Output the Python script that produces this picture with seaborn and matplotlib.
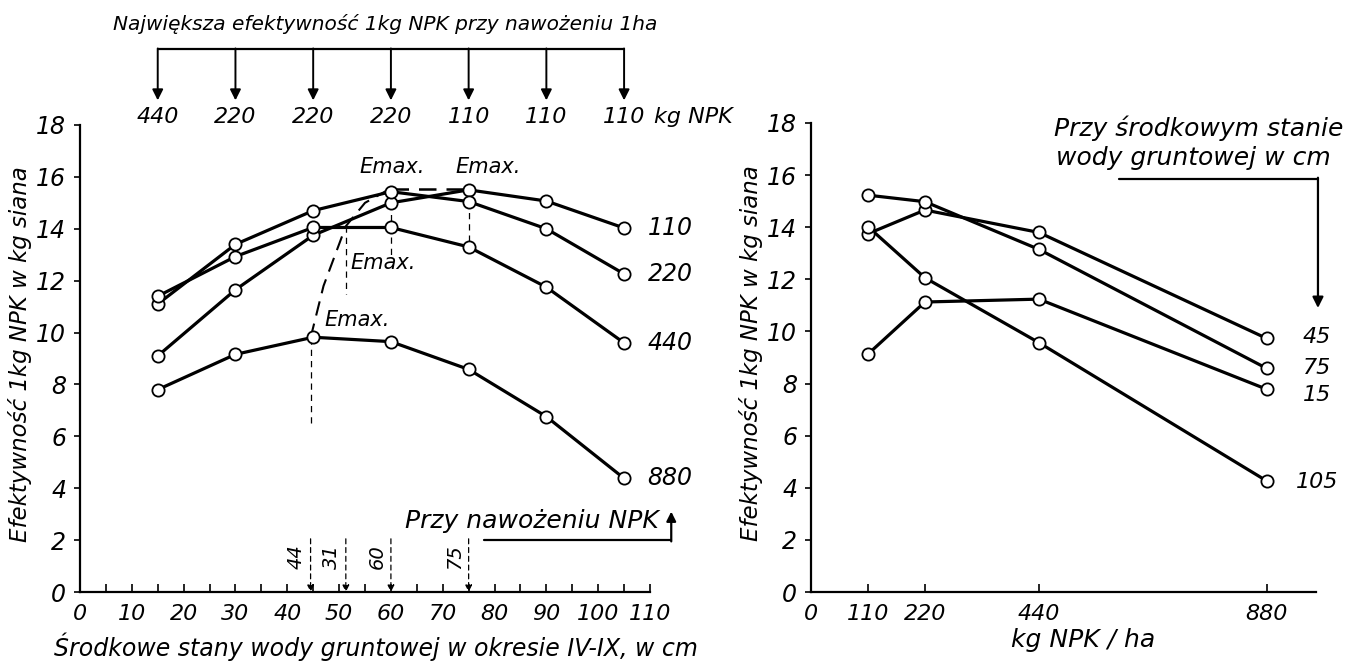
import matplotlib
matplotlib.use("Agg")
import matplotlib.pyplot as plt
import seaborn as sns
import pandas as pd

# ---------------- data ----------------
# Left panel: efficiency vs ground-water level, one curve per NPK dose
water_levels = [15, 30, 45, 60, 75, 90, 105]
eff_110 = [9.1, 11.65, 13.75, 15.0, 15.5, 15.07, 14.03]
eff_220 = [11.1, 13.4, 14.7, 15.43, 15.05, 14.0, 12.26]
eff_440 = [11.4, 12.93, 14.05, 14.05, 13.3, 11.75, 9.6]
eff_880 = [7.8, 9.16, 9.82, 9.65, 8.58, 6.76, 4.38]
dose_labels = ["110", "220", "440", "880"]

best_dose_labels = ["440", "220", "220", "220", "110", "110", "110"]

# Emax locus (dashed) and the water levels of the maxima
emax_locus_x = [44.5, 47.0, 51.3, 55.0, 59.0]
emax_locus_y = [9.8, 11.8, 14.1, 15.0, 15.45]
emax_plateau_x = [60, 75]
emax_plateau_y = [15.55, 15.55]
emax_water = [44.5, 51.3, 60, 75]
emax_water_labels = ["44", "31", "60", "75"]
emax_top = [9.8, 14.1, 15.4, 15.5]
emax_drop_to = [6.4, 11.5, 13.0, 13.3]

# Right panel: efficiency vs NPK dose, one line per ground-water level
npk_doses = [110, 220, 440, 880]
w_45 = [13.75, 14.66, 13.8, 9.73]
w_75 = [15.23, 14.98, 13.15, 8.58]
w_15 = [9.13, 11.13, 11.24, 7.78]
w_105 = [14.02, 12.06, 9.57, 4.26]
water_labels = ["45", "75", "15", "105"]
water_label_y = [9.78, 8.6, 7.56, 4.22]

left_ticks = list(range(0, 111, 10))
right_ticks = [0, 110, 220, 440, 880]
y_ticks = list(range(0, 19, 2))

# ---------------- style ----------------
sns.set_theme(style="white")
plt.rcParams["font.family"] = ["DejaVu Sans"]
plt.rcParams["font.style"] = "italic"
for key in ("text.color", "axes.labelcolor", "xtick.color", "ytick.color", "axes.edgecolor"):
    plt.rcParams[key] = "black"
plt.rcParams["axes.linewidth"] = 1.6

FS = 16
LW = 2.3
MS = 8.8

fig = plt.figure(figsize=(13.59, 6.64), dpi=100)
axL = fig.add_axes([80 / 1359, 72 / 664, 570 / 1359, 467 / 664])
axR = fig.add_axes([811 / 1359, 72 / 664, 505 / 1359, 469 / 664])

left_df = pd.DataFrame({
    "water": water_levels * 4,
    "eff": eff_110 + eff_220 + eff_440 + eff_880,
    "dose": sum([[d] * len(water_levels) for d in dose_labels], []),
})
right_df = pd.DataFrame({
    "npk": npk_doses * 4,
    "eff": w_45 + w_75 + w_15 + w_105,
    "water": sum([[w] * len(npk_doses) for w in water_labels], []),
})

black4 = ["black"] * 4

sns.lineplot(data=left_df, x="water", y="eff", hue="dose", palette=black4,
             linewidth=LW, legend=False, ax=axL, zorder=3)
sns.scatterplot(data=left_df, x="water", y="eff", s=MS ** 2, color="white",
                edgecolor="black", linewidth=1.3, legend=False, ax=axL, zorder=5)

sns.lineplot(data=right_df, x="npk", y="eff", hue="water", palette=black4,
             linewidth=LW, legend=False, ax=axR, zorder=3)
sns.scatterplot(data=right_df, x="npk", y="eff", s=MS ** 2, color="white",
                edgecolor="black", linewidth=1.3, legend=False, ax=axR, zorder=5)

# ---------------- axes ----------------
for ax, lx in ((axL, -0.105), (axR, -0.118)):
    ax.spines["top"].set_visible(False)
    ax.spines["right"].set_visible(False)
    ax.set_ylim(0, 18)
    ax.set_yticks(y_ticks)
    ax.set_yticklabels([str(t) for t in y_ticks], fontsize=FS + 1)
    ax.tick_params(axis="y", direction="out", length=4, width=1.2, pad=6, left=True)
    ax.tick_params(axis="x", direction="in", length=6, width=1.2, pad=9, bottom=True)
    ax.set_yticks([18], minor=True)
    ax.tick_params(axis="y", which="minor", direction="in", length=7, width=1.4, left=True)
    ax.set_ylabel("Efektywność 1kg NPK w kg siana", fontsize=16.5)
    ax.yaxis.set_label_coords(lx, 0.51)
    ax.yaxis.label.set_va("center")
    ax.grid(False)

axL.set_xlim(0, 110)
axL.set_xticks(left_ticks)
axL.set_xticklabels([str(t) for t in left_ticks], fontsize=FS)
axL.set_xticks(list(range(5, 110, 10)), minor=True)
axL.tick_params(axis="x", which="minor", direction="in", length=6, width=1.2, bottom=True)
axL.set_xlabel("Środkowe stany wody gruntowej w okresie IV-IX, w cm", fontsize=17)
axL.xaxis.set_label_coords(0.519, -0.118)
axL.xaxis.label.set_va("center")

axR.set_xlim(0, 975)
axR.set_xticks(right_ticks)
axR.set_xticklabels([str(t) for t in right_ticks], fontsize=FS)
axR.set_xlabel("kg NPK / ha", fontsize=18)
axR.xaxis.set_label_coords(0.539, -0.103)
axR.xaxis.label.set_va("center")

# ---------------- left annotations ----------------
for lab, ys in zip(dose_labels, [eff_110, eff_220, eff_440, eff_880]):
    axL.text(113.9, ys[-1], lab, fontsize=FS + 1, ha="center", va="center", clip_on=False)

# top bracket with best doses
axL.plot([water_levels[0], water_levels[-1]], [20.93, 20.93], color="black", lw=1.6,
         clip_on=False)
for x, lab in zip(water_levels, best_dose_labels):
    axL.annotate("", xy=(x, 18.95), xytext=(x, 20.95),
                 arrowprops=dict(arrowstyle="-|>", color="black", lw=1.4,
                                 mutation_scale=16, shrinkA=0, shrinkB=0),
                 annotation_clip=False)
    axL.text(x, 18.3, lab, fontsize=FS, ha="center", va="center", clip_on=False)
axL.text(water_levels[-1] + 5.8, 18.3, "kg NPK", fontsize=FS, ha="left", va="center",
         clip_on=False)
axL.text(58.9, 21.9, "Największa efektywność 1kg NPK przy nawożeniu 1ha",
         fontsize=14.5, ha="center", va="center", clip_on=False)

# Emax locus
axL.plot(emax_locus_x, emax_locus_y, color="black", lw=1.5, ls=(0, (7, 4)), zorder=4)
axL.plot(emax_plateau_x, emax_plateau_y, color="black", lw=1.8, ls=(0, (7, 4)), zorder=4)
for x, top, bot in zip(emax_water, emax_top, emax_drop_to):
    axL.plot([x, x], [top, bot], color="black", lw=0.9, ls=(0, (5, 4)), zorder=2)
axL.text(60.2, 16.38, "Emax.", fontsize=15, ha="center", va="center")
axL.text(78.8, 16.38, "Emax.", fontsize=15, ha="center", va="center")
axL.text(58.5, 12.68, "Emax.", fontsize=15, ha="center", va="center")
axL.text(53.5, 10.49, "Emax.", fontsize=15, ha="center", va="center")

# bottom arrows to the water levels of the maxima
for x, lab in zip(emax_water, emax_water_labels):
    axL.annotate("", xy=(x, 0.0), xytext=(x, 2.05),
                 arrowprops=dict(arrowstyle="-|>", color="black", lw=0.9, ls=(0, (4, 3)),
                                 mutation_scale=10, shrinkA=0, shrinkB=0),
                 annotation_clip=False)
    axL.text(x - 2.7, 1.35, lab, fontsize=14, rotation=90, ha="center", va="center")

axL.text(87.3, 2.72, "Przy nawożeniu NPK", fontsize=18, ha="center", va="center",
         clip_on=False)
axL.plot([78, 114.1], [2.0, 2.0], color="black", lw=1.6, clip_on=False)
axL.annotate("", xy=(114.1, 3.1), xytext=(114.1, 1.95),
             arrowprops=dict(arrowstyle="-|>", color="black", lw=1.6,
                             mutation_scale=14, shrinkA=0, shrinkB=0),
             annotation_clip=False)

# ---------------- right annotations ----------------
for lab, ly in zip(water_labels, water_label_y):
    axR.text(977, ly, lab, fontsize=FS, ha="center", va="center", clip_on=False)

axR.text(749, 17.8, "Przy środkowym stanie", fontsize=18, ha="center", va="center",
         clip_on=False)
axR.text(473, 16.65, "wody gruntowej w cm", fontsize=18, ha="left", va="center",
         clip_on=False)
axR.plot([594.6, 978.8], [15.85, 15.85], color="black", lw=1.6, clip_on=False)
axR.annotate("", xy=(978.8, 10.9), xytext=(978.8, 15.9),
             arrowprops=dict(arrowstyle="-|>", color="black", lw=1.6,
                             mutation_scale=16, shrinkA=0, shrinkB=0),
             annotation_clip=False)

fig.savefig("out.png", dpi=100, facecolor="white")
